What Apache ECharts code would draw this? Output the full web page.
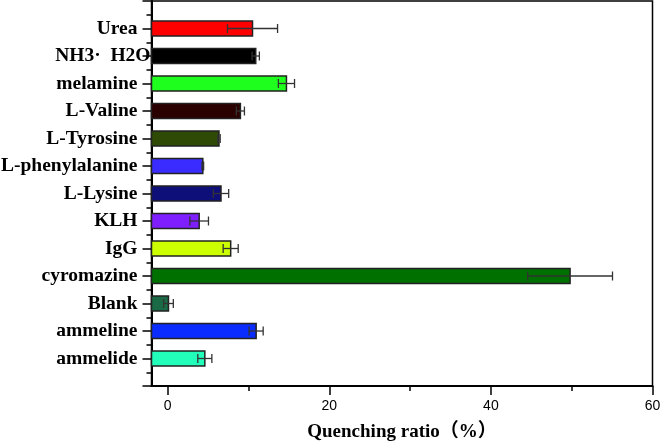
<!DOCTYPE html>
<html>
<head>
<meta charset="utf-8">
<script src="https://cdn.jsdelivr.net/npm/echarts@6/dist/echarts.min.js"></script>
<style>
  html, body { margin: 0; padding: 0; background: #fff; }
  #main { width: 661px; height: 445px; }
</style>
</head>
<body>
<div id="main"></div>
<script>
// 样品名称（从上到下）
var categories = ['Urea', 'NH3·  H2O', 'melamine', 'L-Valine', 'L-Tyrosine', 'L-phenylalanine',
  'L-Lysine', 'KLH', 'IgG', 'cyromazine', 'Blank', 'ammeline', 'ammelide'];
// 猝灭率均值 (%)
var ratioData = [10.5, 10.9, 14.7, 9.0, 6.35, 4.35, 6.6, 3.9, 7.8, 49.8, 0.1, 10.95, 4.6];
// 误差 (±)
var errorData = [3.1, 0.45, 1.0, 0.5, 0.15, 0.1, 0.95, 1.15, 0.93, 5.25, 0.6, 0.87, 0.87];
var barColors = ['#ff0000', '#000000', '#1eff1e', '#2b0000', '#2e4a05', '#3a2cff', '#0f0f7a',
  '#7f1fff', '#ccff00', '#007000', '#1a6b45', '#0a2cff', '#21ffbb'];
var xTicks = [0, 20, 40, 60];
var xMinorTicks = [10, 30, 50];

var seriesData = ratioData.map(function (v, i) {
  return [v, i + 1, errorData[i]];
});

var chart = echarts.init(document.getElementById('main'));
chart.setOption({
  animation: false,
  grid: {
    left: 151.5, right: 8.5, top: 1, height: 385,
    outerBoundsMode: 'none',
    show: true, borderColor: '#000', borderWidth: 1.5
  },
  xAxis: [{
    type: 'value', min: -2, max: 60,
    splitLine: { show: false },
    axisLine: { show: true, onZero: false, lineStyle: { color: '#000', width: 2 } },
    axisTick: { show: true, customValues: xTicks, length: 9, lineStyle: { color: '#000', width: 1.5 } },
    axisLabel: {
      customValues: xTicks, margin: 13, color: '#000',
      fontFamily: 'Liberation Sans', fontSize: 14
    },
    name: 'Quenching ratio（%）',
    nameLocation: 'middle', nameGap: 37,
    nameTextStyle: {
      color: '#000', fontFamily: 'Liberation Serif, Noto Sans CJK SC',
      fontWeight: 'bold', fontSize: 19
    }
  }, {
    type: 'value', min: -2, max: 60, position: 'bottom',
    splitLine: { show: false },
    axisLine: { show: false, onZero: false },
    axisTick: { show: true, customValues: xMinorTicks, length: 5, lineStyle: { color: '#000', width: 1.5 } },
    axisLabel: { show: false }
  }],
  yAxis: {
    type: 'value', min: 0, max: 14, interval: 1, inverse: true,
    splitLine: { show: false },
    axisLine: { show: true, onZero: false, lineStyle: { color: '#000', width: 2 } },
    axisTick: { show: true, length: 9, lineStyle: { color: '#000', width: 1.5 } },
    minorTick: { show: true, splitNumber: 2, length: 5, lineStyle: { color: '#000', width: 1.5 } },
    axisLabel: {
      margin: 14, color: '#000',
      fontFamily: 'Liberation Serif', fontWeight: 'bold', fontSize: 19.5,
      formatter: function (v) {
        var name = categories[v - 1] || '';
        return v === 2 ? '{s|' + name + '}' : name;
      },
      rich: {
        s: {
          color: '#000', fontFamily: 'Liberation Serif', fontWeight: 'bold', fontSize: 19.5,
          padding: [0, -13, 0, 0]
        }
      }
    }
  },
  series: [{
    type: 'custom',
    data: seriesData,
    encode: { x: 0, y: 1 },
    renderItem: function (params, api) {
      var mean = api.value(0), pos = api.value(1), err = api.value(2);
      var left = params.coordSys.x;
      var end = api.coord([mean, pos]);
      var lo = api.coord([mean - err, pos]);
      var hi = api.coord([mean + err, pos]);
      var h = 15, cap = 4.5;
      var errStyle = { stroke: '#333', lineWidth: 1.3 };
      return {
        type: 'group',
        children: [{
          type: 'rect',
          shape: { x: left, y: end[1] - h / 2, width: end[0] - left, height: h },
          style: { fill: barColors[params.dataIndex], stroke: '#222', lineWidth: 1.5 }
        }, {
          type: 'line', shape: { x1: lo[0], y1: lo[1], x2: hi[0], y2: hi[1] }, style: errStyle
        }, {
          type: 'line', shape: { x1: lo[0], y1: lo[1] - cap, x2: lo[0], y2: lo[1] + cap }, style: errStyle
        }, {
          type: 'line', shape: { x1: hi[0], y1: hi[1] - cap, x2: hi[0], y2: hi[1] + cap }, style: errStyle
        }]
      };
    }
  }]
});
</script>
</body>
</html>
